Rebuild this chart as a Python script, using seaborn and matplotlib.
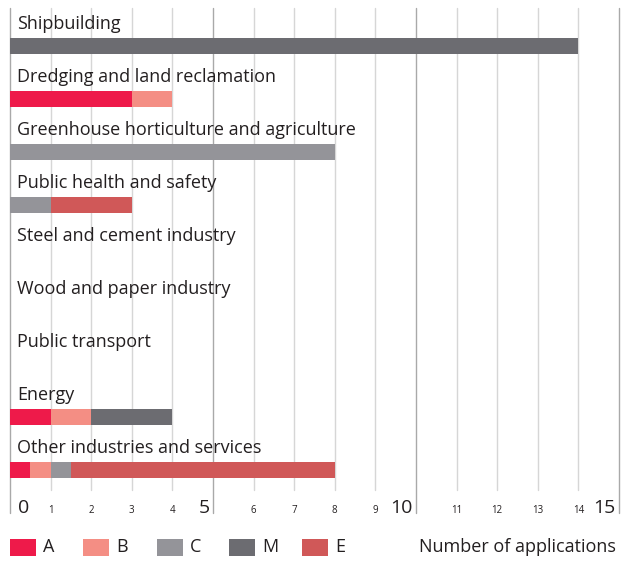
import matplotlib
matplotlib.use("Agg")
import matplotlib.pyplot as plt
from matplotlib.patches import Rectangle
import numpy as np
import pandas as pd
import seaborn as sns

categories = [
    "Shipbuilding",
    "Dredging and land reclamation",
    "Greenhouse horticulture and agriculture",
    "Public health and safety",
    "Steel and cement industry",
    "Wood and paper industry",
    "Public transport",
    "Energy",
    "Other industries and services",
]
series = ["A", "B", "C", "M", "E"]
values_A = [0, 3, 0, 0, 0, 0, 0, 1, 0.5]
values_B = [0, 1, 0, 0, 0, 0, 0, 1, 0.5]
values_C = [0, 0, 8, 1, 0, 0, 0, 0, 0.5]
values_M = [14, 0, 0, 0, 0, 0, 0, 2, 0]
values_E = [0, 0, 0, 2, 0, 0, 0, 0, 6.5]
colors = {"A": "#EE1A4A", "B": "#F48E84", "C": "#949499", "M": "#6C6C71", "E": "#D05858"}
major_ticks = [0, 5, 10, 15]
minor_ticks = [1, 2, 3, 4, 6, 7, 8, 9, 11, 12, 13, 14]
x_label = "Number of applications"

sns.set_style("white")
plt.rcParams["font.family"] = ["Open Sans", "DejaVu Sans"]
TEXT = "#231F20"

W, H = 622, 566
fig = plt.figure(figsize=(W / 100, H / 100), dpi=100)

def px_y(y):
    return 1 - y / H

ax_top, ax_bot = 8, 490
ax = fig.add_axes([10 / W, px_y(ax_bot), 609 / W, (ax_bot - ax_top) / H])

# cumulative stacks, drawn from the full length down so each segment shows
stack = np.array([values_A, values_B, values_C, values_M, values_E], dtype=float)
cum = np.cumsum(stack, axis=0)
df = pd.DataFrame({"category": categories})
for k in range(len(series) - 1, -1, -1):
    df["cum"] = cum[k]
    sns.barplot(data=df, x="cum", y="category", orient="h", color=colors[series[k]],
                width=0.3, ax=ax, saturation=1, linewidth=0, zorder=3)

pitch = 53.0
ymin = -(46 - ax_top) / pitch
ymax = 8 + (ax_bot - 470) / pitch
ax.set_xlim(0, 15)
ax.set_ylim(ymax, ymin)
ax.set_xlabel("")
ax.set_ylabel("")
ax.set_xticks([])
ax.set_yticks([])
for s in ax.spines.values():
    s.set_visible(False)

# grid
for t in minor_ticks:
    ax.plot([t, t], [ymin, ymax], color="#D6D6D6", lw=1.0, zorder=1, clip_on=False)
y_major_end = (513 - 46) / pitch
for t in major_ticks:
    ax.plot([t, t], [ymin, y_major_end], color="#A9A9A9", lw=1.0, zorder=1, clip_on=False)

# category labels above the bars
for i, name in enumerate(categories):
    ax.text(0.17, i - 0.32, name, fontsize=13, color=TEXT, va="baseline", ha="left", zorder=4)

# axis numbers
y_lab = (513 - 46) / pitch
for t in major_ticks:
    if t == 0:
        ax.text(t + 0.2, y_lab, str(t), fontsize=14, color=TEXT, ha="left", va="baseline", clip_on=False)
    else:
        ax.text(t - 0.08, y_lab, str(t), fontsize=14, color=TEXT, ha="right", va="baseline", clip_on=False)
for t in minor_ticks:
    ax.text(t, y_lab, str(t), fontsize=7, color=TEXT, ha="center", va="baseline", clip_on=False)

# legend
leg_x = [10, 83, 157, 229, 302]
for s, x in zip(series, leg_x):
    fig.patches.append(Rectangle((x / W, px_y(556)), 26 / W, 17 / H, transform=fig.transFigure,
                                 facecolor=colors[s], edgecolor="none"))
    fig.text((x + 33) / W, px_y(547.5), s, fontsize=13, color=TEXT, ha="left", va="center")
fig.text(616 / W, px_y(547.5), x_label, fontsize=13, color=TEXT, ha="right", va="center")

fig.savefig("out.png", dpi=100)
